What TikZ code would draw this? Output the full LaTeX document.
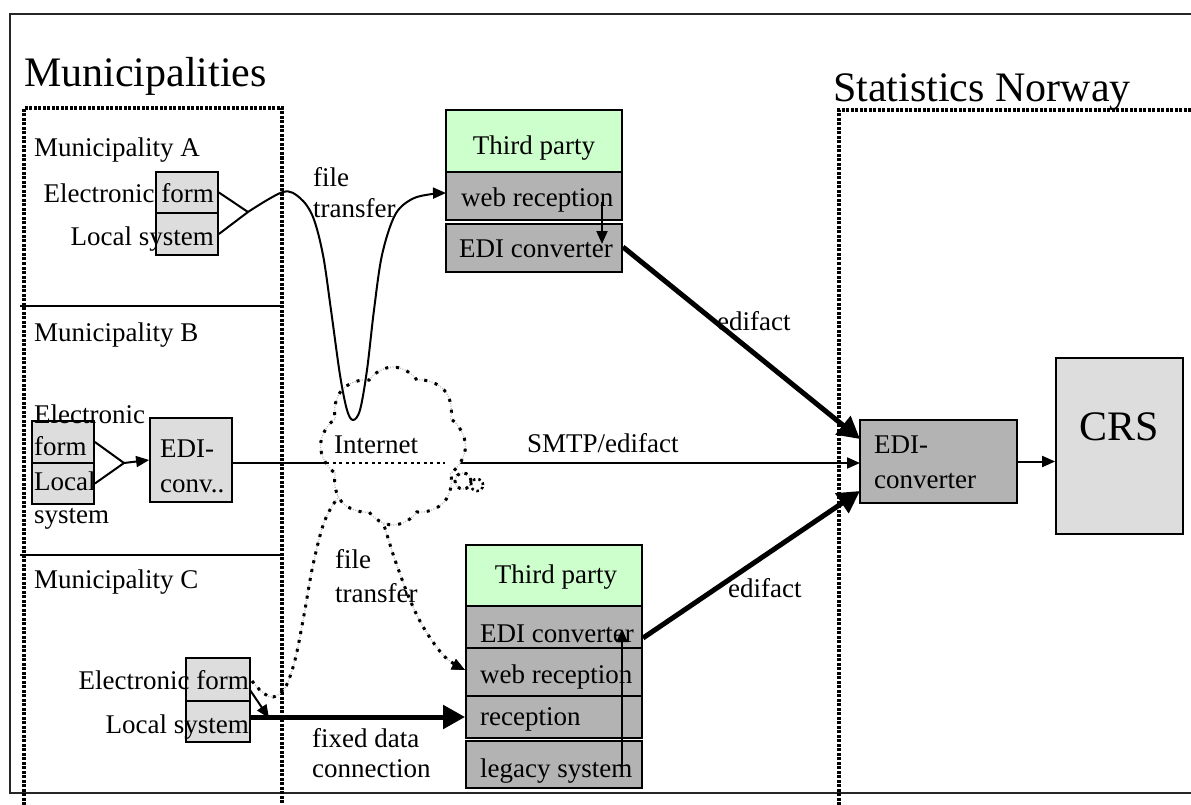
\documentclass[tikz,border=0pt]{standalone}
\usepackage{fontspec}
\setmainfont{Liberation Serif}
\usetikzlibrary{arrows.meta,shapes.symbols}
\definecolor{lightbox}{HTML}{DDDDDD}
\definecolor{midbox}{HTML}{B3B3B3}
\definecolor{partyg}{HTML}{CCFFCC}

\begin{document}
\begin{tikzpicture}[x=1pt,y=-1pt,
  txt/.style={inner sep=0pt, font=\fontsize{27}{30}\selectfont},
  bigtxt/.style={inner sep=0pt, font=\fontsize{42}{46}\selectfont},
  cell/.style={draw=black, line width=1.8pt, inner sep=0pt},
  light/.style={cell, fill=lightbox},
  mid/.style={cell, fill=midbox},
  head/.style={cell, fill=partyg},
  region/.style={line width=3.6pt, dash pattern=on 3pt off 1.5pt},
  frame/.style={line width=2.4pt, draw=black!85},
  link/.style={line width=2pt},
  tip/.style={-{Triangle[length=13pt,width=11pt]}},
  heavy/.style={line width=5pt, -{Triangle[length=22pt,width=23pt]}},
  ftdot/.style={draw=gray!55, line width=1.2pt, dash pattern=on 1pt off 1.5pt,
    -{Triangle[length=13pt,width=11pt,color=black]},
    postaction={draw=black, line width=3pt, dash pattern=on 3pt off 6pt}},
]
\useasboundingbox (0,0) rectangle (1191,805);

% outer frame and the two organisation areas
\draw[frame] (1191,14) -- (10,14) -- (10,793) -- (1191,793);
\draw[region] (24,805) -- (24,108) -- (282,108) -- (282,805);
\draw[region] (839,805) -- (839,110) -- (1191,110);
\draw[line width=2pt] (20,306) -- (280,306);
\draw[line width=2pt] (20,555) -- (280,555);

\node[bigtxt, anchor=base west] (tMun) at (24,87) {Municipalities};
\node[bigtxt, anchor=base west] (tSSB) at (833,102) {Statistics Norway};

\node[txt, anchor=base west] (tA) at (34,157) {Municipality A};
\node[txt, anchor=base west] (tB) at (34,341) {Municipality B};
\node[txt, anchor=base west] (tC) at (34,588) {Municipality C};

% Municipality A
\node[light, minimum width=62pt, minimum height=41pt] (mAform) at (187,192.5) {};
\node[light, minimum width=62pt, minimum height=42pt] (mAlocal) at (187,234) {};
\node[txt, anchor=base east] (mAformT) at (214,203) {Electronic form};
\node[txt, anchor=base east] (mAlocalT) at (214,245) {Local system};
\coordinate (apxA) at (248,212);

% Municipality B
\node[light, minimum width=62pt, minimum height=42pt] (mBform) at (63,442) {};
\node[light, minimum width=62pt, minimum height=41pt] (mBlocal) at (63,483.5) {};
\node[txt, anchor=base west] (mBt1) at (34,423) {Electronic};
\node[txt, anchor=base west] (mBt2) at (34,455) {form};
\node[txt, anchor=base west] (mBt3) at (34,490) {Local};
\node[txt, anchor=base west] (mBt4) at (34,523) {system};
\coordinate (apxB) at (124,463);
\node[light, minimum width=82pt, minimum height=84pt] (mBedi) at (191,460) {};
\node[txt, anchor=base west] (mBe1) at (160,457) {EDI-};
\node[txt, anchor=base west] (mBe2) at (160,492) {conv..};

% Municipality C
\node[light, minimum width=64pt, minimum height=43pt] (mCform) at (218,679.5) {};
\node[light, minimum width=64pt, minimum height=41pt] (mClocal) at (218,721.5) {};
\node[txt, anchor=base east] (mCformT) at (249,689) {Electronic form};
\node[txt, anchor=base east] (mClocalT) at (249,733) {Local system};

% upper third party
\node[head, minimum width=176pt, minimum height=62pt] (tp1head) at (534,141) {};
\node[mid, minimum width=176pt, minimum height=48pt] (tp1web) at (534,196) {};
\node[mid, minimum width=176pt, minimum height=48pt] (tp1edi) at (534,248) {};
\node[txt, anchor=base] (tp1t) at (534,155) {Third party};
\node[txt, anchor=base west] (tp1w) at (461,207) {web reception};
\node[txt, anchor=base west] (tp1e) at (459,258) {EDI converter};

% lower third party
\node[head, minimum width=176pt, minimum height=61pt] (tp2head) at (554,575.5) {};
\node[mid, minimum width=176pt, minimum height=42pt] (tp2edi) at (554,627) {};
\node[mid, minimum width=176pt, minimum height=48pt] (tp2web) at (554,672) {};
\node[mid, minimum width=176pt, minimum height=42pt] (tp2rec) at (554,717) {};
\node[mid, minimum width=176pt, minimum height=47pt] (tp2leg) at (554,764.5) {};
\node[txt, anchor=base] (tp2t) at (556,583) {Third party};
\node[txt, anchor=base west] (tp2e) at (480,642) {EDI converter};
\node[txt, anchor=base west] (tp2w) at (480,683) {web reception};
\node[txt, anchor=base west] (tp2r) at (480,725) {reception};
\node[txt, anchor=base west] (tp2l) at (480,777) {legacy system};

% Statistics Norway
\node[mid, minimum width=157pt, minimum height=83pt] (ssbedi) at (938.5,461.5) {};
\node[txt, anchor=base west] (ssbe1) at (874,453) {EDI-};
\node[txt, anchor=base west] (ssbe2) at (874,488) {converter};
\node[light, minimum width=127pt, minimum height=176pt] (crs) at (1119.5,446) {};
\node[bigtxt, anchor=base] (crsT) at (1119.5,440) {CRS};

% connectors inside the municipalities
\draw[link] (mAform.east) -- (apxA);
\draw[link] (mAlocal.east) -- (apxA);
\draw[link] (mBform.east) -- (apxB);
\draw[link] (mBlocal.east) -- (apxB);
\draw[link, tip] (apxB) -- (mBedi.west);
\coordinate (mCfa) at (250,690);
\coordinate (mCfb) at (269,718);
\draw[link, tip] (mCfa) -- (mCfb);

% connectors inside the third parties
\coordinate (tp1a) at (602,202);
\coordinate (tp1b) at (602,244);
\draw[link, tip] (tp1a) -- (tp1b);
\coordinate (tp2a) at (622,770);
\coordinate (tp2b) at (622,629);
\draw[link, tip] (tp2a) -- (tp2b);

% SMTP line through the Internet
\coordinate (smtpIn) at (860,463);
\draw[link, tip] (mBedi.east |- smtpIn) -- (smtpIn);
\node[txt, anchor=base west] (smtpT) at (527,452) {SMTP/edifact};

% edifact links to Statistics Norway
\coordinate (up1) at (623,247);
\coordinate (up2) at (860,439);
\draw[heavy] (up1) -- (up2);
\node[txt, anchor=base west] (edi1T) at (717,330) {edifact};
\coordinate (lo1) at (643,638);
\coordinate (lo2) at (860,491);
\draw[heavy] (lo1) -- (lo2);
\node[txt, anchor=base west] (edi2T) at (728,597) {edifact};
\draw[link, tip] (ssbedi.east) -- (crs.west |- ssbedi.east);

% fixed data connection
\draw[heavy] (mClocal.east |- tp2rec.west) -- (tp2rec.west);
\node[txt, anchor=base west] (fdc1) at (312,747) {fixed data};
\node[txt, anchor=base west] (fdc2) at (312,777) {connection};

% dotted file transfer from municipality C
\draw[ftdot] plot[smooth, tension=0.55] coordinates {(252,681) (262,692) (273,697) (285,688) (295,660) (304,615) (313,565) (325,520) (342,493) (358,487) (377,507) (395,560) (410,600) (425,630) (445,657) (465,670)};
\node[txt, anchor=base west] (ft2a) at (335,568) {file};
\node[txt, anchor=base west] (ft2b) at (335,602) {transfer};

% the Internet cloud
\node[cloud, cloud puffs=8, cloud puff arc=115, aspect=0.92, minimum width=145pt, minimum height=158pt,
  fill=white, draw=gray!55, line width=1.2pt, dash pattern=on 1pt off 1.5pt,
  postaction={draw=black, line width=3pt, dash pattern=on 3pt off 8pt}] (net) at (393,446) {};
\node[circle, minimum size=16pt, inner sep=0pt, draw=gray!55, line width=1.2pt, dash pattern=on 1pt off 1.5pt,
  postaction={draw=black, line width=3pt, dash pattern=on 3pt off 5pt}] (puff1) at (463,481) {};
\node[circle, minimum size=12pt, inner sep=0pt, draw=black, line width=2.6pt, dash pattern=on 2.5pt off 3pt] (puff2) at (477,485) {};
\coordinate (netL) at (326,463);
\coordinate (netR) at (445,463);
\draw[line width=2.6pt, dash pattern=on 3pt off 3.5pt] (netL) -- (netR);
\node[txt, anchor=base west] (netT) at (334,453) {Internet};

% file transfer from municipality A
\draw[link, tip] plot[smooth, tension=0.55] coordinates {(248,212) (283,192) (300,198) (313,217) (323,255) (331,310) (340,375) (347,410) (353,420) (360,410) (367,370) (374,310) (382,255) (395,215) (412,199) (432,194) (446,193)};
\node[txt, anchor=base west] (ft1a) at (313,187) {file};
\node[txt, anchor=base west] (ft1b) at (313,218) {transfer};
\end{tikzpicture}
\end{document}
